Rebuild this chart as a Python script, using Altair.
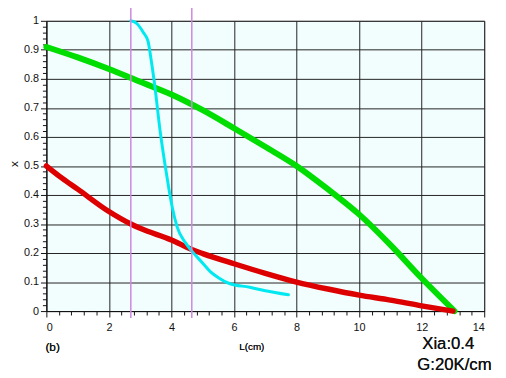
import altair as alt
import pandas as pd

green_x = [0, 1, 2, 3, 4, 5, 6, 7, 8, 9, 10, 11, 12, 13.05]
green_y = [0.91, 0.874, 0.834, 0.79, 0.746, 0.692, 0.630, 0.566, 0.50, 0.42, 0.333, 0.228, 0.113, 0.0]

red_x = [0, 0.5, 1, 2, 2.7, 3, 4, 4.65, 5, 6, 7, 8, 9, 10, 11, 12, 13.0]
red_y = [0.50, 0.458, 0.42, 0.343, 0.30, 0.285, 0.245, 0.212, 0.198, 0.163, 0.13, 0.10, 0.076, 0.055, 0.038, 0.018, 0.0]

cyan_x = [2.7, 2.9, 3.1, 3.25, 3.33, 3.45, 3.65, 3.8, 3.92, 4.03, 4.18, 4.45, 4.68, 5.0, 5.25, 5.5, 5.85, 6.5, 7.0, 7.74]
cyan_y = [1.0, 0.99, 0.96, 0.93, 0.88, 0.79, 0.61, 0.50, 0.42, 0.355, 0.29, 0.235, 0.203, 0.165, 0.135, 0.115, 0.095, 0.082, 0.07, 0.056]

marker_x = [2.7, 4.65]

x_ticks = [round(i * 0.4, 1) for i in range(0, 36)]
y_ticks = [round(i * 0.02, 2) for i in range(0, 51)]

green = pd.DataFrame({"L": green_x, "X": green_y})
red = pd.DataFrame({"L": red_x, "X": red_y})
cyan = pd.DataFrame({"L": cyan_x, "X": cyan_y})
markers = pd.DataFrame({"L": marker_x})

FONT = "Liberation Sans"

xmajor = "abs(datum.value/2 - round(datum.value/2)) < 0.001"
ymajor = "abs(datum.value*10 - round(datum.value*10)) < 0.001"

x_enc = alt.X(
    "L:Q",
    scale=alt.Scale(domain=[0, 14], nice=False),
    axis=alt.Axis(
        values=x_ticks,
        tickCount=200,
        format="~g",
        labelExpr=f"{xmajor} ? datum.label : ''",
        labelOverlap=False,
        title=None,
        grid=True,
        gridColor="#222222",
        gridOpacity={"condition": {"test": xmajor, "value": 1}, "value": 0},
        tickSize={"condition": {"test": xmajor, "value": 6}, "value": 4},
        tickColor="#111111",
        domainColor="#111111",
        labelFont=FONT,
        labelFontSize=11,
        labelColor="#111111",
        labelPadding=5,
    ),
)

y_enc = alt.Y(
    "X:Q",
    scale=alt.Scale(domain=[0, 1], nice=False),
    axis=alt.Axis(
        values=y_ticks,
        tickCount=200,
        format="~g",
        labelExpr=f"{ymajor} ? datum.label : ''",
        labelOverlap=False,
        title="x",
        titleFont=FONT,
        titleFontSize=12,
        titleFontWeight="normal",
        titleColor="#111111",
        titleAngle=-90,
        titleBaseline="middle",
        titleX=-33,
        titleY=145,
        grid=True,
        gridColor="#222222",
        gridOpacity={"condition": {"test": ymajor, "value": 1}, "value": 0},
        tickSize={"condition": {"test": ymajor, "value": 6}, "value": 4},
        tickColor="#111111",
        domainColor="#111111",
        labelFont=FONT,
        labelFontSize=11,
        labelColor="#111111",
        labelPadding=2,
    ),
)

base_green = alt.Chart(green).mark_line(
    color="#00dd00", strokeWidth=6, interpolate="monotone", strokeCap="round"
).encode(x=x_enc, y=y_enc)

line_red = alt.Chart(red).mark_line(
    color="#dd0000", strokeWidth=5.5, interpolate="monotone", strokeCap="round"
).encode(x="L:Q", y="X:Q")

line_cyan = alt.Chart(cyan).mark_line(
    color="#00e8f0", strokeWidth=3, interpolate="monotone", strokeCap="round"
).encode(x="L:Q", y="X:Q")

rules = alt.Chart(markers).mark_rule(
    color="#cc88dd", strokeWidth=1.5, clip=False
).encode(x="L:Q", y=alt.value(-14), y2=alt.value(302))

label_b = alt.Chart(markers).mark_text(
    text="(b)", font=FONT, fontSize=12, color="#111111", align="left", baseline="middle"
).encode(x=alt.value(-1), y=alt.value(332))

label_L = alt.Chart(markers).mark_text(
    text="L(cm)", font=FONT, fontSize=10, color="#111111", align="left", baseline="middle"
).encode(x=alt.value(196), y=alt.value(332))

label_xia = alt.Chart(markers).mark_text(
    text="Xia:0.4", font=FONT, fontSize=17, color="#111111", align="left", baseline="middle"
).encode(x=alt.value(382), y=alt.value(329))

label_g = alt.Chart(markers).mark_text(
    text="G:20K/cm", font=FONT, fontSize=17, color="#111111", align="left", baseline="middle"
).encode(x=alt.value(377), y=alt.value(350))

chart = alt.layer(
    base_green, line_red, line_cyan, rules, label_b, label_L, label_xia, label_g
).properties(
    width=445,
    height=295,
    autosize=alt.AutoSizeParams(type="none"),
    padding={"left": 39, "top": 10, "right": 14, "bottom": 65},
    background="white",
).configure_view(
    fill="#f2fdfd",
    stroke="#777777",
    strokeWidth=1,
)

chart.save("out.html", embed_options={"renderer": "svg", "actions": False})
